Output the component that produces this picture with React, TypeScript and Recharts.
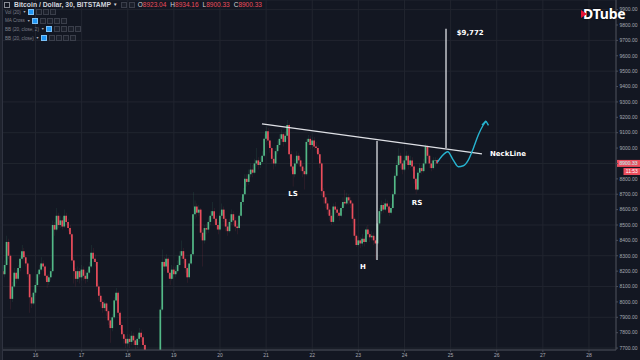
import React from 'react';
import {
  ComposedChart,
  Bar,
  Line,
  XAxis,
  YAxis,
  CartesianGrid,
  ReferenceLine,
  ReferenceDot,
  Cell,
} from 'recharts';

// ---------- header texts ----------
const symbolTitle = 'Bitcoin / Dollar, 30, BITSTAMP';
const legendLabels = ['O', 'H', 'L', 'C'];
const legendValues = ['8923.04', '8934.16', '8900.33', '8900.33'];
const studyNames = ['Vol (20)', 'MA Cross', 'BB (20, close, 2)', 'BB (20, close)'];

// ---------- candles (hourly, first one at hour 7 of the 15th) ----------
const firstHour = 7;
const firstOpen = 8200;
const closes = [
  8180, 8240, 8390, 8300, 8020, 8100, 8190, 8150, 8220, 8280, 8330, 8290, 8250, 8180, 8030, 7990, 8060, 8110,
  8180, 8210, 8250, 8230, 8170, 8130, 8160, 8200, 8500, 8470, 8560, 8500, 8530, 8490, 8560, 8520, 8480, 8440, 8270, 8200, 8150, 8200, 8160, 8210,
  8170, 8150, 8190, 8230, 8320, 8280, 8260, 8100, 8040, 8000, 7960, 7990, 7940, 7880, 7830, 7900, 8010, 8060, 7930, 7850, 7790, 7760, 7730, 7760,
  7740, 7780, 7750, 7720, 7760, 7800, 7770, 7720, 7660, 7620, 7600, 7560, 7590, 7610, 7640, 7650, 7950, 8260, 8230, 8280, 8190, 8150, 8210, 8180,
  8200, 8240, 8300, 8330, 8280, 8220, 8160, 8250, 8310, 8570, 8620, 8580, 8600, 8450, 8400, 8480, 8470, 8520, 8560, 8590, 8540, 8500, 8470, 8560,
  8600, 8540, 8490, 8460, 8520, 8570, 8530, 8490, 8480, 8560, 8650, 8700, 8800, 8780, 8830, 8860, 8840, 8900, 8920, 8890, 8910, 8950, 9060, 9110,
  9050, 9000, 8930, 8900, 8980, 9020, 9060, 9090, 9040, 9080, 9150, 8960, 8880, 8830, 8900, 8950, 8920, 8880, 8850, 8830, 9040, 9060, 9020, 9050,
  9010, 9000, 8960, 8900, 8720, 8680, 8640, 8600, 8560, 8520, 8620, 8600, 8580, 8560, 8610, 8650, 8640, 8680, 8660, 8640, 8540, 8430, 8370, 8400,
  8380, 8410, 8390, 8470, 8440, 8420, 8430, 8400, 8380, 8510, 8590, 8630, 8600, 8640, 8620, 8580, 8610, 8700, 8820, 8890, 8950, 8900, 8860, 8920,
  8950, 8890, 8920, 8880, 8800, 8730, 8840, 8870, 8850, 8900, 9010, 8950, 8900, 8870, 8920, 8923.04, 8900.33,
];
const highs = [
  8230, 8270, 8430, 8410, 8310, 8130, 8220, 8210, 8240, 8300, 8370, 8350, 8300, 8260, 8190, 8050, 8080, 8130,
  8200, 8240, 8290, 8270, 8240, 8180, 8180, 8220, 8530, 8520, 8610, 8580, 8560, 8550, 8600, 8580, 8540, 8500, 8450, 8290, 8220, 8230, 8220, 8240,
  8230, 8200, 8210, 8260, 8370, 8350, 8310, 8270, 8120, 8060, 8020, 8010, 8000, 7950, 7900, 7920, 8030, 8090, 8070, 7940, 7870, 7810, 7780, 7790,
  7790, 7810, 7800, 7770, 7790, 7830, 7820, 7790, 7730, 7670, 7640, 7620, 7610, 7630, 7660, 7670, 7970, 8340, 8290, 8310, 8290, 8210, 8240, 8230,
  8230, 8270, 8330, 8400, 8350, 8290, 8230, 8270, 8340, 8715, 8660, 8640, 8630, 8610, 8470, 8500, 8510, 8550, 8590, 8650, 8610, 8560, 8520, 8580,
  8640, 8620, 8560, 8510, 8540, 8600, 8590, 8550, 8510, 8580, 8680, 8740, 8830, 8830, 8860, 8900, 8890, 8930, 9000, 8940, 8940, 8980, 9090, 9140,
  9130, 9070, 9010, 8950, 9000, 9050, 9090, 9120, 9100, 9110, 9182, 9160, 8980, 8900, 8930, 8980, 8970, 8940, 8900, 8870, 9060, 9085, 9080, 9070,
  9070, 9040, 9020, 8980, 8910, 8740, 8700, 8660, 8620, 8580, 8640, 8650, 8620, 8600, 8640, 8680, 8727, 8710, 8700, 8680, 8650, 8550, 8440, 8420,
  8420, 8440, 8430, 8490, 8500, 8460, 8460, 8450, 8420, 8530, 8610, 8660, 8650, 8670, 8660, 8640, 8640, 8720, 8840, 8920, 9000, 8970, 8920, 8950,
  8980, 8960, 8950, 8940, 8890, 8810, 8860, 8900, 8890, 8930, 9030, 9020, 8960, 8920, 8940, 8940, 8934.16,
];
const lows = [
  8150, 8160, 8230, 8280, 7950, 8000, 8090, 8120, 8140, 8200, 8270, 8270, 8230, 8160, 7930, 7960, 7980, 8040,
  8100, 8160, 8200, 8200, 8140, 8090, 8110, 8140, 8190, 8430, 8460, 8480, 8480, 8470, 8480, 8500, 8460, 8420, 8250, 8120, 8100, 8130, 8120, 8140,
  8140, 8120, 8130, 8180, 8220, 8260, 8230, 8080, 8010, 7970, 7930, 7940, 7910, 7850, 7735, 7810, 7890, 7990, 7910, 7820, 7760, 7730, 7700, 7710,
  7700, 7720, 7720, 7690, 7700, 7740, 7740, 7680, 7630, 7590, 7570, 7530, 7540, 7570, 7590, 7620, 7640, 7940, 8200, 8210, 8150, 8110, 8140, 8150,
  8160, 8190, 8230, 8280, 8250, 8190, 8125, 8150, 8240, 8300, 8540, 8550, 8560, 8420, 8230, 8380, 8440, 8450, 8500, 8540, 8510, 8470, 8440, 8460,
  8540, 8520, 8460, 8430, 8450, 8500, 8500, 8460, 8440, 8470, 8550, 8630, 8690, 8750, 8760, 8810, 8810, 8830, 8880, 8860, 8870, 8900, 8940, 9040,
  9020, 8970, 8900, 8860, 8880, 8960, 9000, 9040, 9010, 9030, 9060, 8930, 8850, 8750, 8810, 8880, 8890, 8850, 8810, 8730, 8820, 9020, 8990, 9000,
  8990, 8970, 8930, 8870, 8690, 8640, 8610, 8570, 8530, 8500, 8510, 8570, 8550, 8530, 8550, 8590, 8620, 8630, 8630, 8610, 8510, 8400, 8357, 8360,
  8350, 8360, 8360, 8380, 8420, 8390, 8400, 8370, 8275, 8370, 8500, 8570, 8580, 8590, 8600, 8560, 8570, 8600, 8690, 8810, 8880, 8870, 8830, 8850,
  8900, 8860, 8870, 8850, 8770, 8700, 8720, 8820, 8830, 8840, 8890, 8930, 8870, 8850, 8860, 8880, 8900.33,
];

// ---------- axes ----------
const dayTicks = [16, 17, 18, 19, 20, 21, 22, 23, 24, 25, 26, 27, 28];
const priceTicks = [
  7700, 7800, 7900, 8000, 8100, 8200, 8300, 8400, 8500, 8600, 8700, 8800, 8900, 9000, 9100, 9200, 9300,
  9400, 9500, 9600, 9700, 9800, 9900,
];
const dayDomain = [15.2737, 28.5854];
const priceDomain = [7687.5, 9962.5];
const lastPrice = 8900.33;
const countdown = '11:53';

// ---------- drawings ----------
const neckline = [{ x: 20.91, y: 9157 }, { x: 25.68, y: 8962 }];
const headDepth = [{ x: 23.404, y: 9046 }, { x: 23.404, y: 8272 }];
const targetMove = [{ x: 24.9, y: 9000 }, { x: 24.9, y: 9776 }];
const projDays = [24.711, 24.813, 24.937, 25.058, 25.166, 25.275, 25.383, 25.492, 25.6, 25.708, 25.767];
const projPrices = [8907, 8948, 8976, 8922, 8879, 8885, 8922, 8998, 9085, 9150, 9176];
const arrowBarbs = [{ x: 25.68, y: 9150 }, { x: 25.82, y: 9148 }];
const patternLabels = [
  { text: 'LS', day: 21.583, price: 8702 },
  { text: 'H', day: 23.1, price: 8227 },
  { text: 'RS', day: 24.271, price: 8643 },
  { text: 'NeckLine', day: 26.244, price: 8962 },
  { text: '$9,772', day: 25.424, price: 9748 },
];

const UP = '#53b987';
const DOWN = '#eb4d5c';
const BG = '#131722';
const GRID = '#21252f';
const AXIS_TEXT = '#a6a9b2';
const CYAN = '#27b4d0';
const DRAW = '#dfe1e6';

const candles = closes.map((close, i) => {
  const open = i === 0 ? firstOpen : closes[i - 1];
  return {
    t: 15 + (firstHour + i) / 24,
    wick: [Math.min(lows[i], open, close), Math.max(highs[i], open, close)],
    body: [Math.min(open, close), Math.max(open, close)],
    up: close >= open,
  };
});

const projection = projDays.map((d, i) => ({ t: d, p: projPrices[i] }));
const tip = projection[projection.length - 1];

const PriceTag = (props: any) => {
  const vb = props.viewBox || {};
  const x = (vb.x || 0) + (vb.width || 0);
  const y = vb.y || 0;
  return (
    <g>
      <rect x={x + 1} y={y - 3.5} width={23} height={7} fill={DOWN} />
      <text x={x + 12.5} y={y + 1.8} fontSize={5} fill="#ffffff" textAnchor="middle" fontFamily="Liberation Sans, Arial, sans-serif">
        {lastPrice.toFixed(2)}
      </text>
      <rect x={x + 7.5} y={y + 4.6} width={16.5} height={7} fill={DOWN} />
      <text x={x + 15.8} y={y + 9.9} fontSize={5} fill="#ffffff" textAnchor="middle" fontFamily="Liberation Sans, Arial, sans-serif">
        {countdown}
      </text>
    </g>
  );
};

const iconBox = (key: string | number, active: boolean) => (
  <span
    key={key}
    style={{
      display: 'inline-block',
      width: 4,
      height: 4,
      marginRight: 1.2,
      background: active ? '#2196f3' : '#1c202b',
      border: active ? '0.6px solid #7cc0f5' : '0.6px solid #3a3e4a',
      verticalAlign: 'middle',
    }}
  />
);

export default function App() {
  return (
    <div
      style={{
        position: 'absolute',
        left: 0,
        top: 0,
        width: 640,
        height: 360,
        background: BG,
        overflow: 'hidden',
      }}
    >
      <ComposedChart
        width={640}
        height={360}
        data={candles}
        margin={{ top: 0, right: 0, bottom: 0, left: 2 }}
      >
        <CartesianGrid stroke={GRID} strokeWidth={1} />
        <XAxis
          dataKey="t"
          type="number"
          domain={dayDomain}
          allowDataOverflow
          ticks={dayTicks}
          height={10}
          tickSize={2}
          tickMargin={1}
          stroke="#4a4e59"
          tick={{ fill: AXIS_TEXT, fontSize: 5, fontFamily: 'Liberation Sans, Arial, sans-serif' }}
        />
        <XAxis xAxisId="body" dataKey="t" type="number" domain={dayDomain} allowDataOverflow hide />
        <YAxis
          orientation="right"
          type="number"
          domain={priceDomain}
          allowDataOverflow
          ticks={priceTicks}
          width={24}
          tickSize={2}
          tickMargin={1.5}
          stroke="#4a4e59"
          tickFormatter={(v: number) => v.toFixed(2)}
          tick={{ fill: AXIS_TEXT, fontSize: 5, fontFamily: 'Liberation Sans, Arial, sans-serif', textAnchor: 'start' }}
        />
        <Bar dataKey="wick" barSize={1} isAnimationActive={false}>
          {candles.map((c, i) => (
            <Cell key={`w${i}`} fill={c.up ? UP : DOWN} />
          ))}
        </Bar>
        <Bar dataKey="body" xAxisId="body" barSize={1.7} isAnimationActive={false}>
          {candles.map((c, i) => (
            <Cell key={`b${i}`} fill={c.up ? UP : DOWN} />
          ))}
        </Bar>

        <ReferenceLine segment={neckline} stroke={DRAW} strokeWidth={1.3} />
        <ReferenceLine segment={headDepth} stroke={DRAW} strokeWidth={1.3} />
        <ReferenceLine segment={targetMove} stroke={DRAW} strokeWidth={1.3} />
        <Line
          data={projection}
          dataKey="p"
          type="monotone"
          stroke={CYAN}
          strokeWidth={1.4}
          dot={false}
          isAnimationActive={false}
        />
        <ReferenceLine segment={[{ x: tip.t, y: tip.p }, arrowBarbs[0]]} stroke={CYAN} strokeWidth={1.4} />
        <ReferenceLine segment={[{ x: tip.t, y: tip.p }, arrowBarbs[1]]} stroke={CYAN} strokeWidth={1.4} />

        {patternLabels.map((l) => (
          <ReferenceDot
            key={l.text}
            x={l.day}
            y={l.price}
            r={0}
            fill="none"
            stroke="none"
            label={{
              value: l.text,
              position: 'center',
              fill: '#ffffff',
              fontSize: 7,
              fontWeight: 700,
              fontFamily: 'DejaVu Sans, sans-serif',
            }}
          />
        ))}
        <ReferenceLine y={lastPrice} stroke="none" label={<PriceTag />} />
      </ComposedChart>

      {/* left edge strip */}
      <div style={{ position: 'absolute', left: 0, top: 0, width: 2, height: 360, background: '#1e222d', borderRight: '1px solid #2f3340' }} />

      {/* header */}
      <div
        style={{
          position: 'absolute',
          left: 4,
          top: 0,
          height: 9,
          display: 'flex',
          alignItems: 'center',
          whiteSpace: 'nowrap',
          fontFamily: 'Liberation Sans, Arial, sans-serif',
          fontSize: 6.8,
          fontWeight: 700,
          color: '#d1d4dc',
        }}
      >
        <span style={{ display: 'inline-block', width: 4, height: 4, border: '0.7px solid #8a8d96', marginRight: 4 }} />
        <span>{symbolTitle}</span>
        <span style={{ fontSize: 4.5, marginLeft: 2, marginRight: 4 }}>▼</span>
        {iconBox('h1', false)}
        {iconBox('h2', false)}
        <span style={{ marginLeft: 2, fontWeight: 400, fontSize: 6.5 }}>
          {legendLabels.map((lab, i) => (
            <span key={lab} style={{ marginRight: 4 }}>
              <span style={{ color: '#d1d4dc' }}>{lab}</span>
              <span style={{ color: DOWN }}>{legendValues[i]}</span>
            </span>
          ))}
        </span>
      </div>
      <div
        style={{
          position: 'absolute',
          left: 5,
          top: 8,
          fontFamily: 'Liberation Sans, Arial, sans-serif',
          fontSize: 4.6,
          color: '#7b7e88',
        }}
      >
        {studyNames.map((name, i) => (
          <div key={name} style={{ height: 8.6, display: 'flex', alignItems: 'center', whiteSpace: 'nowrap' }}>
            <span>{name}</span>
            <span style={{ fontSize: 3.5, margin: '0 2px 0 2px', color: '#b0b3bb' }}>▼</span>
            {iconBox(`a${i}`, true)}
            {iconBox(`b${i}`, false)}
            {i > 0 ? iconBox(`c${i}`, false) : null}
            {iconBox(`d${i}`, false)}
            {iconBox(`e${i}`, false)}
          </div>
        ))}
      </div>

      {/* DTube watermark */}
      <div
        style={{
          position: 'absolute',
          left: 581,
          top: 7,
          height: 14,
          lineHeight: '14px',
          display: 'flex',
          alignItems: 'center',
          fontFamily: 'Noto Sans, Liberation Sans, sans-serif',
          fontWeight: 700,
          fontSize: 14,
          color: '#ffffff',
          textShadow: '0 0 2px #000',
          letterSpacing: -0.2,
        }}
      >
        <svg width={6} height={8} style={{ marginRight: -4, position: 'relative', zIndex: 1 }}>
          <polygon points="0,0 6,4 0,8" fill="#e31337" />
        </svg>
        <span style={{ lineHeight: '14px' }}>DTube</span>
      </div>
    </div>
  );
}
